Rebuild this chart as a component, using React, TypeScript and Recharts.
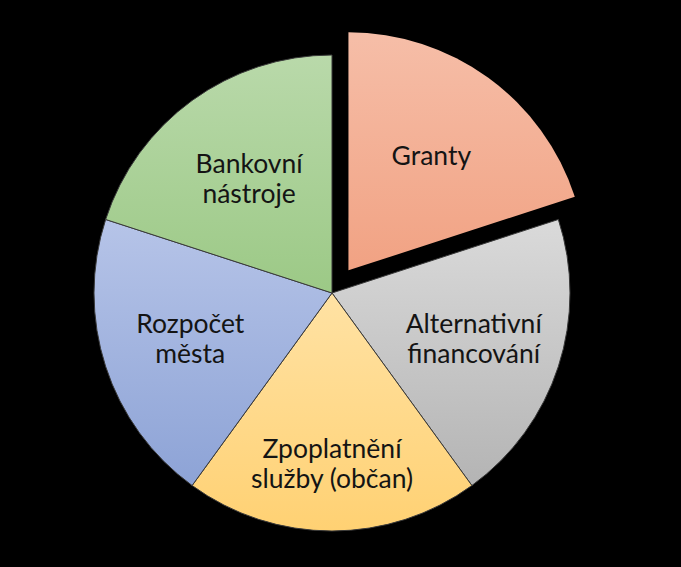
import { PieChart, Pie, Cell } from "recharts";

// Funding sources, clockwise from 12 o'clock (all slices are equal).
const SOURCES = ["Granty", "Alternativní financování", "Zpoplatnění služby (občan)", "Rozpočet města", "Bankovní nástroje"];
const SHARES = [20, 20, 20, 20, 20];
// Line breaks used for the in-slice labels.
const LABEL_LINES = [
  ["Granty"],
  ["Alternativní", "financování"],
  ["Zpoplatnění", "služby (občan)"],
  ["Rozpočet", "města"],
  ["Bankovní", "nástroje"],
];

// Gradient stops per slice (top -> bottom).
const GRADIENTS = [
  ["#f6bea8", "#f1a283"],
  ["#dadada", "#b4b4b4"],
  ["#ffe2a4", "#ffd173"],
  ["#b6c4e8", "#8da3d6"],
  ["#b9d9aa", "#9cc986"],
];

// How far each label sits from the centre (best-fit style placement).
const LABEL_RADIUS = [141, 149, 171, 149, 141];

const WIDTH = 681;
const HEIGHT = 567;
const CX = 332;
const CY = 293;
const RADIUS = 238;
const EXPLODE = 28; // offset of the pulled-out "Granty" slice
const EXPLODED = 0;
const RAD = Math.PI / 180;

const data = SOURCES.map((name, i) => ({ name, value: SHARES[i] }));

// Renders the label of a slice, only for the slices this pie actually shows.
function makeLabel(showExploded: boolean) {
  return (props: any) => {
    const { cx, cy, midAngle, index } = props;
    if ((index === EXPLODED) !== showExploded) return null;
    const r = LABEL_RADIUS[index];
    const x = cx + r * Math.cos(midAngle * RAD);
    const y = cy - r * Math.sin(midAngle * RAD);
    const lines = LABEL_LINES[index];
    const lineHeight = 30;
    return (
      <text
        key={`label-${index}`}
        x={x}
        y={y}
        textAnchor="middle"
        fill="#141414"
        fontFamily="Lato, 'Open Sans', sans-serif"
        fontSize={26.5}
      >
        {lines.map((line, i) => (
          <tspan key={line} x={x} y={y + (i - (lines.length - 1) / 2) * lineHeight + 9}>
            {line}
          </tspan>
        ))}
      </text>
    );
  };
}

export default function App() {
  const midAngle = 90 - 36; // middle of the first slice, in chart degrees
  const ex = EXPLODE * Math.cos(midAngle * RAD);
  const ey = -EXPLODE * Math.sin(midAngle * RAD);

  return (
    <div style={{ position: "absolute", left: 0, top: 0, width: WIDTH, height: HEIGHT, background: "#000" }}>
      <PieChart width={WIDTH} height={HEIGHT} margin={{ top: 0, right: 0, bottom: 0, left: 0 }}>
        <defs>
          {GRADIENTS.map((g, i) => (
            <linearGradient key={i} id={`grad-${i}`} x1="0" y1="0" x2="0" y2="1">
              <stop offset="0%" stopColor={g[0]} />
              <stop offset="100%" stopColor={g[1]} />
            </linearGradient>
          ))}
        </defs>
        {/* Main pie, "Granty" left empty here */}
        <Pie
          data={data}
          dataKey="value"
          nameKey="name"
          cx={CX}
          cy={CY}
          outerRadius={RADIUS}
          startAngle={90}
          endAngle={-270}
          paddingAngle={0}
          labelLine={false}
          label={makeLabel(false)}
          isAnimationActive={false}
        >
          {data.map((entry, index) => (
            <Cell
              key={`cell-${entry.name}`}
              fill={index === EXPLODED ? "transparent" : `url(#grad-${index})`}
              stroke={index === EXPLODED ? "none" : "#3a3a3a"}
              strokeWidth={1}
            />
          ))}
        </Pie>
        {/* Pulled-out "Granty" slice */}
        <Pie
          data={data}
          dataKey="value"
          nameKey="name"
          cx={CX + ex}
          cy={CY + ey}
          outerRadius={RADIUS}
          startAngle={90}
          endAngle={-270}
          labelLine={false}
          label={makeLabel(true)}
          isAnimationActive={false}
        >
          {data.map((entry, index) => (
            <Cell
              key={`cell-x-${entry.name}`}
              fill={index === EXPLODED ? `url(#grad-${index})` : "transparent"}
              stroke="none"
            />
          ))}
        </Pie>
      </PieChart>
    </div>
  );
}
